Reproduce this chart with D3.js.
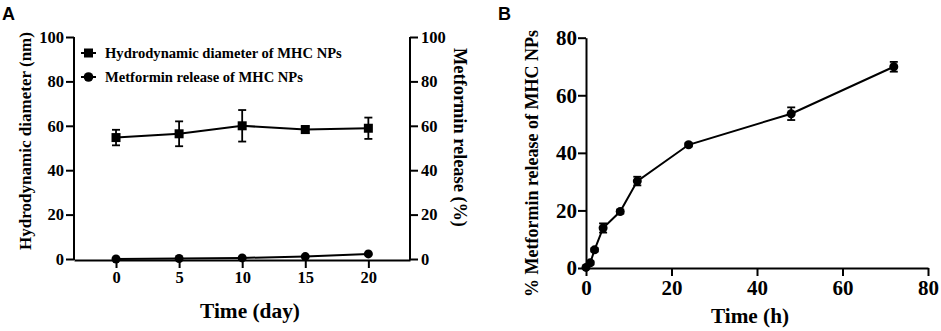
<!DOCTYPE html>
<html>
<head>
<meta charset="utf-8">
<script src="https://cdn.jsdelivr.net/npm/d3@7"></script>
<style>
  body { margin: 0; background: #fff; }
</style>
</head>
<body>
<div id="chart"></div>
<script>
// Panel A data
const daysA = [0, 5, 10, 15, 20];
const diameter = [54.7, 56.4, 60.0, 58.3, 58.9];
const diameterErr = [3.5, 5.6, 7.1, 1.6, 4.8];
const releaseA = [0.0, 0.2, 0.5, 1.1, 2.3];
const ticksAx = [0, 5, 10, 15, 20];
const ticksAy = [0, 20, 40, 60, 80, 100];
const legendA = ["Hydrodynamic diameter of MHC NPs", "Metformin release of MHC NPs"];

// Panel B data
const hoursB = [0, 1, 2, 4, 8, 12, 24, 48, 72];
const releaseB = [0.2, 1.8, 6.3, 13.9, 19.6, 30.2, 42.8, 53.6, 69.9];
const releaseBErr = [0, 0.6, 0.6, 1.6, 0.7, 1.5, 0.6, 2.2, 1.7];
const ticksBx = [0, 20, 40, 60, 80];
const ticksBy = [0, 20, 40, 60, 80];

const SERIF = '"Liberation Serif", "DejaVu Serif", serif';
const SANS = '"Liberation Sans", Arial, sans-serif';

const svg = d3.select("#chart").append("svg")
  .attr("width", 941).attr("height", 331);

function label(sel, size) {
  return sel.style("font-family", SERIF).style("font-weight", "bold")
    .style("font-size", size + "px").attr("fill", "#000");
}

// shrink/grow the font so the text spans about the same length as in the figure
function fit(sel, size, span) {
  label(sel, size);
  const len = sel.node().getComputedTextLength();
  if (len > 0) sel.style("font-size", (size * span / len).toFixed(2) + "px");
  return sel;
}

function styleAxis(g, size) {
  g.attr("font-family", null).attr("font-size", null);
  g.select(".domain").attr("stroke", "#000").attr("stroke-width", 2);
  g.selectAll(".tick line").attr("stroke", "#000").attr("stroke-width", 2);
  label(g.selectAll(".tick text"), size);
}

// ---------- Panel A ----------
const xA = d3.scaleLinear().domain([-3.33, 23.3]).range([74, 410]);
const yA = d3.scaleLinear().domain([0, 100]).range([259, 37]);

svg.append("g").attr("transform", "translate(0,260)")
  .call(d3.axisBottom(xA).tickValues(ticksAx).tickSize(8).tickSizeOuter(0).tickPadding(3))
  .call(g => styleAxis(g, 16.5));
svg.append("g").attr("transform", "translate(74,0)")
  .call(d3.axisLeft(yA).tickValues(ticksAy).tickSize(8).tickSizeOuter(0).tickPadding(2))
  .call(g => styleAxis(g, 16.5))
  .call(g => g.select(".domain").attr("d", `M0,${yA(100)}V260`));
svg.append("g").attr("transform", "translate(410,0)")
  .call(d3.axisRight(yA).tickValues(ticksAy).tickSize(8).tickSizeOuter(0).tickPadding(3))
  .call(g => styleAxis(g, 16.5))
  .call(g => g.select(".domain").attr("d", `M0,${yA(100)}V260`));

// diameter series
const lineA = d3.line().x((d, i) => xA(daysA[i])).y(d => yA(d));
svg.append("path").datum(diameter).attr("d", lineA)
  .attr("fill", "none").attr("stroke", "#000").attr("stroke-width", 2);
const errA = svg.append("g").attr("stroke", "#000").attr("stroke-width", 1.8);
diameter.forEach((v, i) => {
  const x = xA(daysA[i]);
  const y1 = yA(v + diameterErr[i]), y2 = yA(v - diameterErr[i]);
  errA.append("line").attr("x1", x).attr("x2", x).attr("y1", y1).attr("y2", y2);
  errA.append("line").attr("x1", x - 4).attr("x2", x + 4).attr("y1", y1).attr("y2", y1);
  errA.append("line").attr("x1", x - 4).attr("x2", x + 4).attr("y1", y2).attr("y2", y2);
});
svg.append("g").selectAll("rect").data(diameter).join("rect")
  .attr("x", (d, i) => xA(daysA[i]) - 4.5).attr("y", d => yA(d) - 4.5)
  .attr("width", 9).attr("height", 9).attr("fill", "#000");

// release series
svg.append("path").datum(releaseA).attr("d", lineA)
  .attr("fill", "none").attr("stroke", "#000").attr("stroke-width", 2);
svg.append("g").selectAll("circle").data(releaseA).join("circle")
  .attr("cx", (d, i) => xA(daysA[i])).attr("cy", d => yA(d))
  .attr("r", 4.5).attr("fill", "#000");

// legend
const leg = svg.append("g");
const legSpans = [237, 198];
legendA.forEach((t, i) => {
  const y = 53 + i * 24;
  leg.append("line").attr("x1", 81).attr("x2", 96).attr("y1", y).attr("y2", y)
    .attr("stroke", "#000").attr("stroke-width", 2);
  if (i === 0) leg.append("rect").attr("x", 84).attr("y", y - 4.5).attr("width", 9).attr("height", 9).attr("fill", "#000");
  else leg.append("circle").attr("cx", 88.5).attr("cy", y).attr("r", 4.8).attr("fill", "#000");
  fit(leg.append("text").attr("x", 105).attr("y", y + 5).text(t), 14.5, legSpans[i]);
});

fit(svg.append("text").attr("transform", "translate(31,141) rotate(-90)")
  .attr("text-anchor", "middle").text("Hydrodynamic diameter (nm)"), 17, 218);
fit(svg.append("text").attr("transform", "translate(454,137.5) rotate(90)")
  .attr("text-anchor", "middle").text("Metformin release (%)"), 17, 179);
fit(svg.append("text").attr("x", 250).attr("y", 318)
  .attr("text-anchor", "middle").text("Time (day)"), 20, 100);
svg.append("text").attr("x", 2).attr("y", 20)
  .style("font-family", SANS).style("font-weight", "bold").style("font-size", "18px").text("A");

// ---------- Panel B ----------
const xB = d3.scaleLinear().domain([0, 80]).range([586, 928]);
const yB = d3.scaleLinear().domain([0, 80]).range([268, 37.7]);

svg.append("g").attr("transform", "translate(0,268)")
  .call(d3.axisBottom(xB).tickValues(ticksBx).tickSize(8).tickSizeOuter(0).tickPadding(4))
  .call(g => styleAxis(g, 21));
svg.append("g").attr("transform", "translate(586,0)")
  .call(d3.axisLeft(yB).tickValues(ticksBy).tickSize(8).tickSizeOuter(0).tickPadding(1))
  .call(g => styleAxis(g, 21));

const lineB = d3.line().x((d, i) => xB(hoursB[i])).y(d => yB(d));
svg.append("path").datum(releaseB).attr("d", lineB)
  .attr("fill", "none").attr("stroke", "#000").attr("stroke-width", 2);
const errB = svg.append("g").attr("stroke", "#000").attr("stroke-width", 1.8);
releaseB.forEach((v, i) => {
  if (!releaseBErr[i]) return;
  const x = xB(hoursB[i]);
  const y1 = yB(v + releaseBErr[i]), y2 = yB(v - releaseBErr[i]);
  errB.append("line").attr("x1", x).attr("x2", x).attr("y1", y1).attr("y2", y2);
  errB.append("line").attr("x1", x - 4).attr("x2", x + 4).attr("y1", y1).attr("y2", y1);
  errB.append("line").attr("x1", x - 4).attr("x2", x + 4).attr("y1", y2).attr("y2", y2);
});
svg.append("g").selectAll("circle").data(releaseB).join("circle")
  .attr("cx", (d, i) => xB(hoursB[i])).attr("cy", d => yB(d))
  .attr("r", 4.5).attr("fill", "#000");

fit(svg.append("text").attr("transform", "translate(538,163.5) rotate(-90)")
  .attr("text-anchor", "middle").text("% Metformin release of MHC NPs"), 18, 267);
fit(svg.append("text").attr("x", 750).attr("y", 323)
  .attr("text-anchor", "middle").text("Time (h)"), 21, 78);
svg.append("text").attr("x", 498).attr("y", 20)
  .style("font-family", SANS).style("font-weight", "bold").style("font-size", "18px").text("B");
</script>
</body>
</html>
